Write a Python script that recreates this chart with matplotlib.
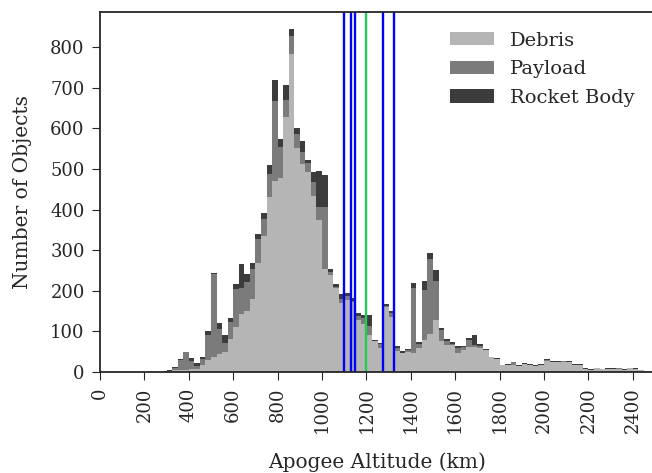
import matplotlib
matplotlib.use("Agg")
import matplotlib.pyplot as plt
import numpy as np
import seaborn as sns

# Histogram of apogee altitudes, 25 km bins from 0 to 2500 km
bin_width = 25
debris = [0, 0, 0, 0, 0, 0, 0, 0, 0, 0,
          0, 3, 2, 4, 4, 6, 8, 7, 17, 30,
          38, 45, 50, 82, 111, 143, 150, 181, 268, 335,
          430, 470, 478, 629, 783, 552, 513, 493, 434, 374,
          255, 239, 208, 169, 177, 172, 127, 118, 91, 77,
          58, 161, 136, 52, 47, 50, 48, 58, 79, 94,
          128, 77, 66, 66, 48, 53, 62, 62, 58, 53,
          36, 32, 17, 18, 17, 14, 19, 17, 15, 17,
          26, 24, 24, 24, 24, 17, 17, 8, 6, 11,
          7, 8, 8, 8, 6, 9, 8, 4, 2, 2]
payload = [0, 0, 0, 0, 0, 0, 0, 0, 0, 0,
           0, 0, 1, 5, 26, 43, 20, 9, 15, 61,
           203, 60, 22, 41, 94, 65, 72, 72, 60, 42,
           59, 197, 76, 41, 45, 35, 29, 21, 35, 33,
           152, 8, 2, 12, 10, 3, 10, 14, 22, 0,
           10, 2, 9, 8, 1, 3, 160, 12, 123, 184,
           97, 27, 10, 2, 11, 9, 16, 4, 6, 1,
           0, 0, 0, 0, 7, 1, 1, 1, 1, 1,
           4, 0, 1, 2, 1, 1, 1, 0, 0, 0,
           0, 0, 0, 1, 0, 0, 0, 0, 0, 0]
rocket_body = [0, 0, 0, 0, 0, 0, 0, 0, 0, 0,
               0, 0, 1, 4, 2, 0, 6, 5, 4, 10,
               4, 15, 19, 9, 12, 58, 19, 15, 12, 15,
               21, 52, 20, 37, 17, 14, 27, 8, 24, 88,
               78, 6, 8, 11, 7, 8, 8, 8, 27, 1,
               3, 5, 5, 3, 4, 4, 11, 3, 22, 16,
               26, 5, 5, 5, 5, 2, 5, 25, 6, 3,
               2, 2, 1, 2, 1, 2, 1, 1, 1, 1,
               2, 2, 1, 1, 1, 1, 1, 1, 1, 0,
               1, 1, 1, 0, 1, 1, 1, 1, 1, 1]

# Planned constellation shells (km)
shells_blue = [1100, 1130, 1150, 1275, 1325]
shells_green = [1200]

sns.set_style("ticks")
plt.rcParams['font.family'] = ['DejaVu Serif']

edges = np.arange(len(debris)) * bin_width
deb = np.array(debris)
pay = np.array(payload)
rb = np.array(rocket_body)

fig = plt.figure(figsize=(6.52, 4.73), dpi=100)
ax = fig.add_axes([100 / 652, 101 / 473, 555 / 652, 360 / 473])

ax.bar(edges, deb, width=bin_width, align='edge', color='#b5b5b5', linewidth=0, label='Debris')
ax.bar(edges, pay, width=bin_width, align='edge', bottom=deb, color='#7b7b7b', linewidth=0, label='Payload')
ax.bar(edges, rb, width=bin_width, align='edge', bottom=deb + pay, color='#3c3c3c', linewidth=0, label='Rocket Body')

for s in shells_blue:
    ax.axvline(s, color='#0000ff', linewidth=1.7)
for s in shells_green:
    ax.axvline(s, color='#22cc55', linewidth=1.7)

ax.set_xlim(0, 2500)
ax.set_ylim(0, 887)
ax.set_xticks(np.arange(0, 2401, 200))
ax.set_yticks(np.arange(0, 801, 100))
ax.tick_params(axis='x', labelrotation=90, labelsize=13, length=6, pad=5)
ax.tick_params(axis='y', labelsize=13, length=6, pad=5)
ax.set_xlabel('Apogee Altitude (km)', fontsize=14.5, labelpad=14)
ax.set_ylabel('Number of Objects', fontsize=14.5, labelpad=13)

for sp in ax.spines.values():
    sp.set_linewidth(1.3)
    sp.set_color('#262626')

ax.legend(loc='upper right', frameon=False, fontsize=14, handlelength=2.3,
          labelspacing=0.55, bbox_to_anchor=(652 / 652, 459 / 473),
          bbox_transform=fig.transFigure)

fig.savefig('out.png', dpi=100)
